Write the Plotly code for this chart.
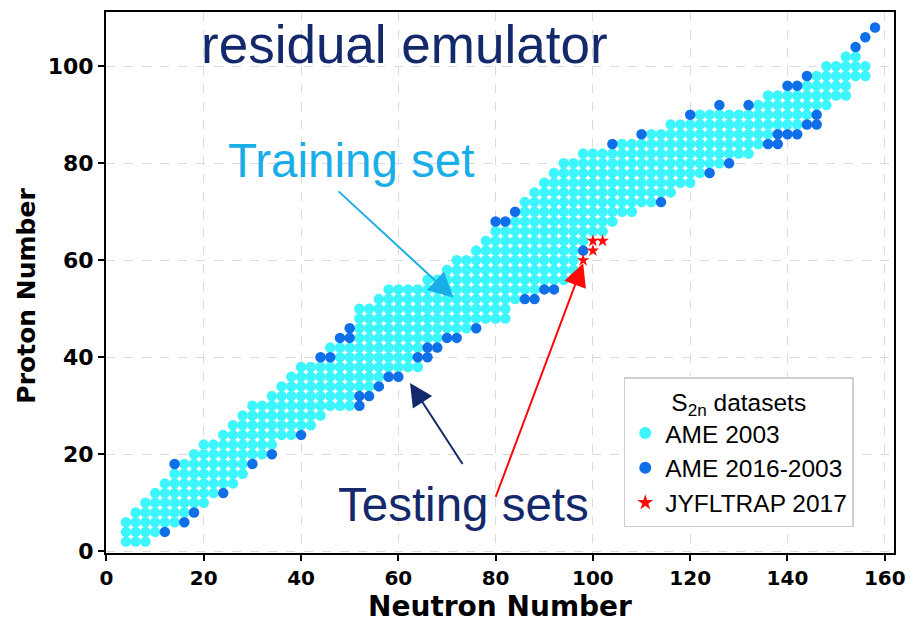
import plotly.graph_objects as go

# Even-Z rows of the AME 2003 set: first and last even N in each row
ROW_Z = [2, 4, 6, 8, 10, 12, 14, 16, 18, 20, 22, 24, 26, 28, 30, 32, 34, 36,
         38, 40, 42, 44, 46, 48, 50, 52, 54, 56, 58, 60, 62, 64, 66, 68, 70,
         72, 74, 76, 78, 80, 82, 84, 86, 88, 90, 92, 94, 96, 98, 100, 102]
ROW_FIRST_N = [4, 4, 4, 6, 8, 10, 12, 14, 16, 18, 20, 24, 26, 28, 30, 34, 36,
               38, 40, 48, 46, 52, 52, 52, 52, 56, 58, 66, 70, 72, 76, 78, 80,
               84, 86, 86, 88, 90, 92, 94, 98, 106, 112, 116, 122, 134, 136,
               144, 146, 148, 152]
ROW_LAST_N = [8, 10, 14, 16, 20, 22, 26, 28, 28, 32, 34, 38, 42, 44, 50, 50,
              54, 56, 64, 62, 64, 68, 74, 82, 82, 84, 88, 94, 96, 96, 96, 98,
              102, 104, 108, 112, 116, 120, 122, 126, 132, 134, 136, 142, 144,
              148, 152, 152, 156, 156, 154]

# Nuclei added between AME 2003 and AME 2016
NEW_N = [12, 16, 18, 24, 14, 30, 34, 40, 52, 52, 54, 56, 58, 60, 44, 46, 64,
         66, 66, 68, 48, 50, 70, 72, 50, 76, 86, 88, 90, 92, 98, 80, 82, 84,
         114, 124, 128, 104, 136, 138, 110, 138, 140, 142, 144, 146, 120, 146,
         126, 132, 140, 142, 144, 154, 156, 158]
NEW_Z = [4, 6, 8, 12, 18, 18, 20, 24, 30, 32, 32, 34, 36, 36, 40, 40, 40,
         40, 42, 42, 44, 44, 44, 44, 46, 46, 52, 52, 54, 54, 62, 68, 68, 70,
         72, 78, 80, 84, 84, 84, 86, 86, 86, 86, 88, 88, 90, 90,
         92, 92, 96, 96, 98, 104, 106, 108]

# JYFLTRAP 2017 measurements
JYFL_N = [98, 100, 100, 102]
JYFL_Z = [60, 62, 64, 64]

X_TICKS = [0, 20, 40, 60, 80, 100, 120, 140, 160]
Y_TICKS = [0, 20, 40, 60, 80, 100]

CYAN = "#3df6fd"
BLUE = "#0f6fe8"
RED = "#ff0a0a"
NAVY = "#14296b"
SKY = "#19aee8"

ame03_n, ame03_z = [], []
for z, n0, n1 in zip(ROW_Z, ROW_FIRST_N, ROW_LAST_N):
    for n in range(n0, n1 + 1, 2):
        ame03_n.append(n)
        ame03_z.append(z)

fig = go.Figure()
fig.add_trace(go.Scatter(
    x=ame03_n, y=ame03_z, mode="markers", name="AME 2003",
    marker=dict(color=CYAN, size=10.5, line=dict(width=0)),
))
fig.add_trace(go.Scatter(
    x=NEW_N, y=NEW_Z, mode="markers", name="AME 2016-2003",
    marker=dict(color=BLUE, size=10.5, line=dict(width=0)),
))
fig.add_trace(go.Scatter(
    x=JYFL_N, y=JYFL_Z, mode="markers", name="JYFLTRAP 2017",
    marker=dict(color=RED, size=9.5, symbol="star", line=dict(width=0)),
))

text_font = "Liberation Sans, Arial, sans-serif"
annotations = [
    dict(x=61.3, y=104.6, text="residual emulator", showarrow=False,
         font=dict(family=text_font, size=53, color=NAVY)),
    dict(x=50.3, y=80.5, text="Training set", showarrow=False,
         font=dict(family=text_font, size=47.5, color=SKY)),
    dict(x=73.4, y=9.6, text="Testing sets", showarrow=False,
         font=dict(family=text_font, size=47.5, color=NAVY)),
    # y-axis title, drawn as rotated text so it can sit where it belongs
    dict(x=-0.102, y=0.475, xref="paper", yref="paper",
         text="<b>Proton Number</b>", showarrow=False, textangle=-90,
         xanchor="center", yanchor="middle",
         font=dict(family="DejaVu Sans", size=25, color="black")),
    # arrows
    dict(x=71.4, y=52.3, ax=47.4, ay=74.5, xref="x", yref="y",
         axref="x", ayref="y", text="", showarrow=True, arrowhead=2,
         arrowsize=2.5, arrowwidth=2, arrowcolor=SKY, standoff=0),
    dict(x=62.4, y=34.7, ax=73.4, ay=17.7, xref="x", yref="y",
         axref="x", ayref="y", text="", showarrow=True, arrowhead=2,
         arrowsize=2.3, arrowwidth=2, arrowcolor=NAVY, standoff=0),
    dict(x=98.0, y=59.4, ax=79.9, ay=10.9, xref="x", yref="y",
         axref="x", ayref="y", text="", showarrow=True, arrowhead=2,
         arrowsize=2.3, arrowwidth=2, arrowcolor=RED, standoff=0),
]

axis_common = dict(
    showline=True, mirror=True, linecolor="black", linewidth=2,
    ticks="outside", ticklen=6, tickwidth=2, tickcolor="black",
    showgrid=True, gridcolor="#dadada", griddash="dash", gridwidth=1,
    zeroline=False, ticklabeloverflow="allow",
)

fig.update_layout(
    width=916, height=627,
    margin=dict(l=106, r=13, t=10, b=74),
    paper_bgcolor="white", plot_bgcolor="white",
    xaxis=dict(range=[-0.1, 161.9], tickvals=X_TICKS,
               ticktext=["<b>%d</b>" % v for v in X_TICKS],
               tickfont=dict(family="DejaVu Sans", size=20, color="black"),
               title=dict(text="<b>Neutron Number</b>", standoff=7,
                          font=dict(family="DejaVu Sans", size=28, color="black")),
               **axis_common),
    yaxis=dict(range=[-0.35, 111.2], tickvals=Y_TICKS,
               ticktext=["<b>%d</b>" % v for v in Y_TICKS],
               tickfont=dict(family="DejaVu Sans", size=22, color="black"),
               **axis_common),
    legend=dict(
        x=0.803, y=0.325, xanchor="center", yanchor="top",
        bgcolor="white", bordercolor="#cfcfcf", borderwidth=1.5,
        font=dict(family=text_font, size=24.5, color="black"),
        title=dict(text="S<sub>2n</sub> datasets", side="top center",
                   font=dict(family=text_font, size=24.5, color="black")),
        itemsizing="constant", tracegroupgap=0,
    ),
    annotations=annotations,
    showlegend=True,
)

fig.write_html("out.html")
